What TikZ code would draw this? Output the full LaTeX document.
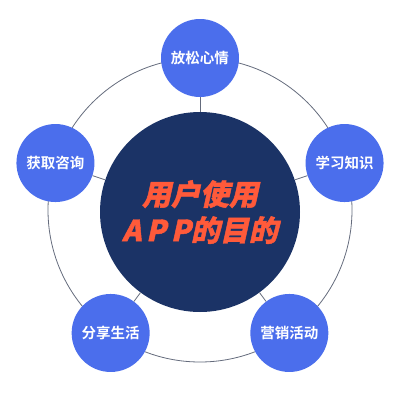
\documentclass[tikz,border=0pt]{standalone}
\usepackage{fontspec}
\newfontfamily\cjk{Noto Sans CJK SC Bold}
\newfontfamily\cjkbold[FakeSlant=0.22,FakeBold=1.5]{Noto Sans CJK SC Black}
\definecolor{navy}{HTML}{1B3366}
\definecolor{sat}{HTML}{4B6EEC}
\definecolor{ora}{HTML}{FF5A3A}
\definecolor{ring}{HTML}{646B7C}
\tikzset{
  satnode/.style={circle, fill=sat, minimum size=78pt, inner sep=0pt, text=white, font=\cjk\fontsize{14.5}{16}\selectfont},
  mainnode/.style={circle, fill=navy, minimum size=200pt, inner sep=0pt, text=ora, align=center, font=\cjkbold\fontsize{29}{36}\selectfont},
  spoke/.style={draw=ring, line width=0.8pt}
}
\begin{document}
\begin{tikzpicture}[x=1pt,y=-1pt]
\useasboundingbox (0,0) rectangle (400,400);
\draw[ring, line width=0.8pt] (200,210) circle (152pt);
\node[mainnode] (c) at (200,212) {用户使用\\A\,P\,P的目的};
\node[satnode] (s1) at ({200+152*cos(90)},{210-152*sin(90)}) {放松心情};
\node[satnode] (s2) at ({200+152*cos(18)},{210-152*sin(18)}) {学习知识};
\node[satnode] (s3) at ({200+152*cos(-54)},{210-152*sin(-54)}) {营销活动};
\node[satnode] (s4) at ({200+152*cos(-126)},{210-152*sin(-126)}) {分享生活};
\node[satnode] (s5) at ({200+152*cos(162)},{210-152*sin(162)}) {获取咨询};
\foreach \s in {s1,s2,s3,s4,s5} \draw[spoke] (c) -- (\s);
\end{tikzpicture}
\end{document}
